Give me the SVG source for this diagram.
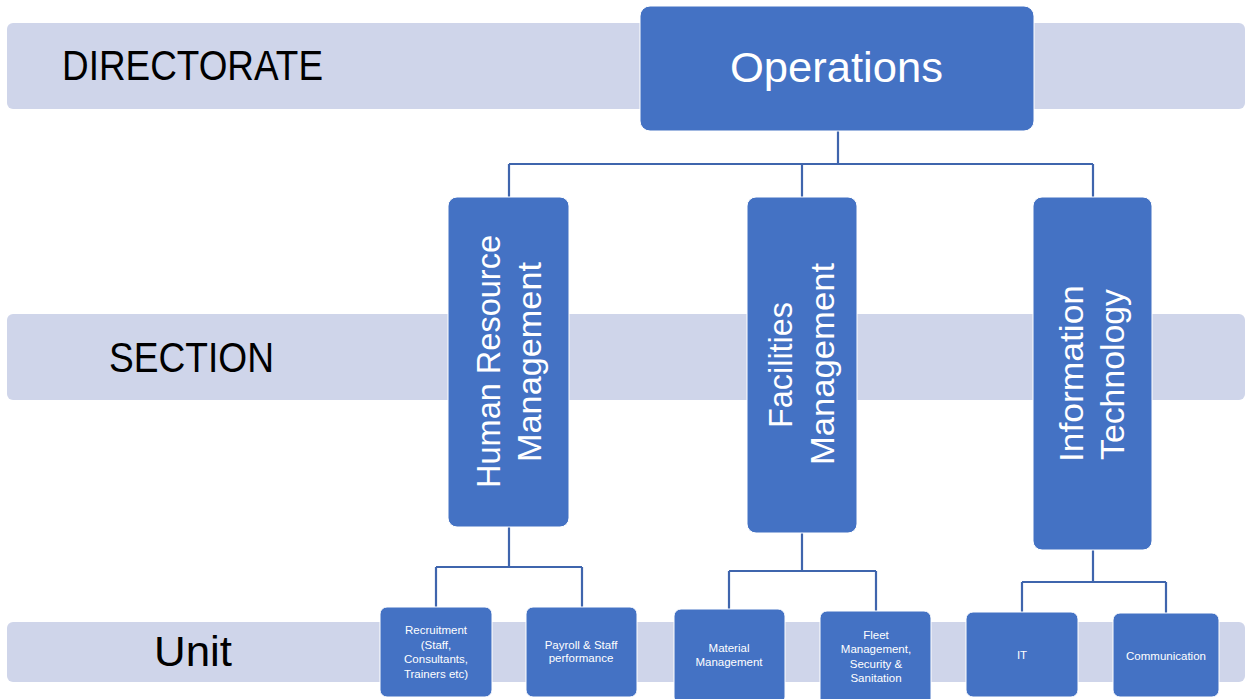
<svg xmlns="http://www.w3.org/2000/svg" width="1251" height="699" viewBox="0 0 1251 699">
  <style>
    .band { fill: #CFD5EA; }
    .box { fill: #4472C4; stroke: #FFFFFF; stroke-width: 1; }
    .lbl { font-family: "Liberation Sans", Arial, sans-serif; fill: #000000; font-size: 42px; }
    .big { font-family: "Liberation Sans", Arial, sans-serif; fill: #FFFFFF; font-size: 42px; text-anchor: middle; }
    .vt { font-family: "Liberation Sans", Arial, sans-serif; fill: #FFFFFF; font-size: 33px; text-anchor: middle; }
    .sm { font-family: "Liberation Sans", Arial, sans-serif; fill: #FFFFFF; font-size: 11.5px; text-anchor: middle; }
    .conn { fill: none; stroke: #3F65AD; stroke-width: 2.2; }
  </style>

  <g id="bands">
    <rect class="band" x="7" y="23" width="1238" height="86" rx="6"/>
    <rect class="band" x="7" y="314" width="1238" height="86" rx="6"/>
    <rect class="band" x="7" y="622" width="1238" height="60" rx="6"/>
    <text class="lbl" x="62" y="80" textLength="261" lengthAdjust="spacingAndGlyphs">DIRECTORATE</text>
    <text class="lbl" x="109" y="372" textLength="165" lengthAdjust="spacingAndGlyphs">SECTION</text>
    <text class="lbl" x="154" y="666" textLength="78" lengthAdjust="spacingAndGlyphs">Unit</text>
  </g>

  <g id="connectors">
    <path class="conn" d="M838 131 V164 M509 164 H1093 M509 164 V197 M802 164 V197 M1093 164 V197"/>
    <path class="conn" d="M509 527 V567 M436 567 H582 M436 567 V607 M582 567 V607"/>
    <path class="conn" d="M802 533 V571 M729 571 H876 M729 571 V609 M876 571 V611"/>
    <path class="conn" d="M1093 550 V582 M1022 582 H1166 M1022 582 V612 M1166 582 V613"/>
  </g>

  <g id="operations">
    <rect class="box" x="640" y="6" width="394" height="125" rx="10"/>
    <text class="big" x="836.5" y="82" textLength="213" lengthAdjust="spacingAndGlyphs">Operations</text>
  </g>

  <g id="hr">
    <rect class="box" x="448" y="197" width="121" height="330" rx="9"/>
    <text class="vt" transform="translate(500,361.5) rotate(-90)" x="0" y="0" textLength="253" lengthAdjust="spacingAndGlyphs">Human Resource</text>
    <text class="vt" transform="translate(541,362) rotate(-90)" x="0" y="0" textLength="200" lengthAdjust="spacingAndGlyphs">Management</text>
  </g>

  <g id="fm">
    <rect class="box" x="747" y="197" width="110" height="336" rx="9"/>
    <text class="vt" transform="translate(792,365) rotate(-90)" x="0" y="0" textLength="126" lengthAdjust="spacingAndGlyphs">Facilities</text>
    <text class="vt" transform="translate(834,364) rotate(-90)" x="0" y="0" textLength="202" lengthAdjust="spacingAndGlyphs">Management</text>
  </g>

  <g id="it-section">
    <rect class="box" x="1033" y="197" width="119" height="353" rx="9"/>
    <text class="vt" transform="translate(1083,373.5) rotate(-90)" x="0" y="0" textLength="177" lengthAdjust="spacingAndGlyphs">Information</text>
    <text class="vt" transform="translate(1124,374.5) rotate(-90)" x="0" y="0" textLength="171" lengthAdjust="spacingAndGlyphs">Technology</text>
  </g>

  <g id="recruitment">
    <rect class="box" x="380" y="607" width="112" height="90" rx="7"/>
    <text class="sm" x="436" y="634">Recruitment</text>
    <text class="sm" x="436" y="649">(Staff,</text>
    <text class="sm" x="436" y="663">Consultants,</text>
    <text class="sm" x="436" y="678">Trainers etc)</text>
  </g>

  <g id="payroll">
    <rect class="box" x="526" y="607" width="111" height="90" rx="7"/>
    <text class="sm" x="581" y="649">Payroll &amp; Staff</text>
    <text class="sm" x="581" y="662">performance</text>
  </g>

  <g id="material">
    <rect class="box" x="674" y="609" width="111" height="95" rx="7"/>
    <text class="sm" x="729" y="652">Material</text>
    <text class="sm" x="729" y="666">Management</text>
  </g>

  <g id="fleet">
    <rect class="box" x="820" y="611" width="111" height="95" rx="7"/>
    <text class="sm" x="876" y="639">Fleet</text>
    <text class="sm" x="876" y="653">Management,</text>
    <text class="sm" x="876" y="668">Security &amp;</text>
    <text class="sm" x="876" y="682">Sanitation</text>
  </g>

  <g id="it-unit">
    <rect class="box" x="966" y="612" width="112" height="85" rx="7"/>
    <text class="sm" x="1022" y="659">IT</text>
  </g>

  <g id="communication">
    <rect class="box" x="1113" y="613" width="106" height="84" rx="7"/>
    <text class="sm" x="1166" y="660">Communication</text>
  </g>
</svg>
